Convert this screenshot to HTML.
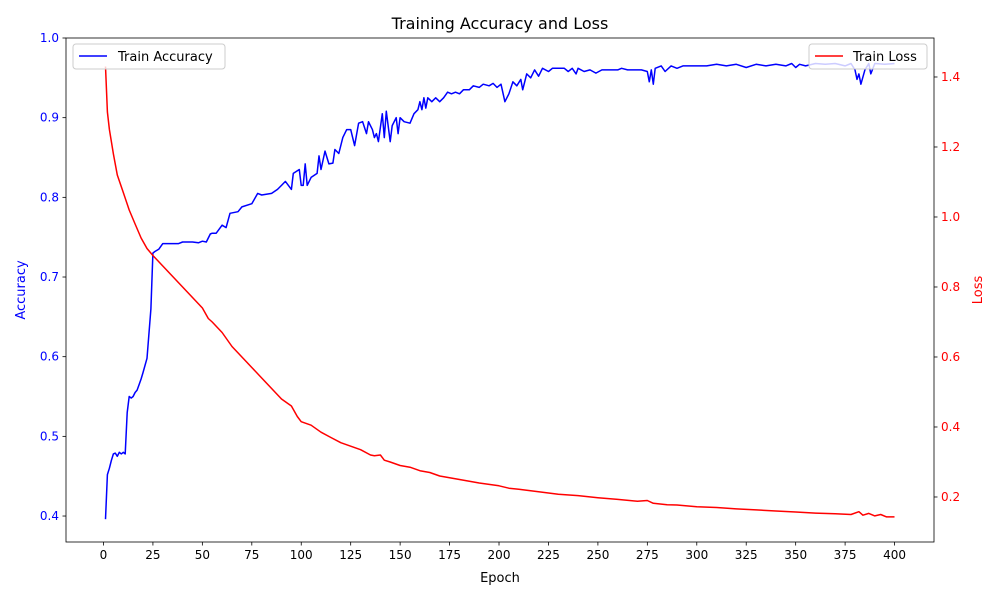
<!DOCTYPE html>
<html><head><meta charset="utf-8"><style>
body{margin:0;background:#fff;font-family:"Liberation Sans","DejaVu Sans",sans-serif}
svg text{font-family:"DejaVu Sans","Liberation Sans",sans-serif}
</style></head><body>
<svg id="chart" width="1000" height="600"></svg>
<script>
const accEpochs=[1,2,3,4,5,6,7,8,9,10,11,12,13,14,15,16,17,18,19,20,22,24,25,26,28,30,35,38,40,45,48,50,52,54,55,57,60,62,64,68,70,75,78,80,85,88,90,92,95,96,99,100,101,102,103,105,108,109,110,112,114,116,117,119,121,123,125,127,129,131,133,134,136,137,138,139,141,142,143,145,146,148,149,150,152,155,157,159,160,161,162,163,164,166,168,170,172,174,176,178,180,182,185,187,190,192,195,197,199,201,203,205,207,209,211,212,214,216,218,220,222,225,227,230,233,235,237,239,240,243,246,249,252,260,262,265,272,275,276,277,278,279,282,284,287,290,293,300,305,310,315,320,325,330,335,340,345,348,350,352,355,360,365,370,375,378,380,381,382,383,385,387,388,390,395,400];
const accValues=[0.396,0.452,0.46,0.47,0.478,0.479,0.475,0.48,0.478,0.48,0.478,0.53,0.55,0.548,0.55,0.555,0.558,0.565,0.572,0.58,0.598,0.66,0.73,0.732,0.735,0.742,0.742,0.742,0.744,0.744,0.743,0.745,0.744,0.754,0.755,0.755,0.765,0.762,0.78,0.782,0.788,0.792,0.805,0.803,0.805,0.81,0.815,0.82,0.81,0.83,0.835,0.815,0.815,0.842,0.815,0.825,0.83,0.852,0.835,0.858,0.842,0.843,0.86,0.855,0.875,0.885,0.885,0.865,0.893,0.895,0.88,0.895,0.885,0.875,0.88,0.87,0.905,0.875,0.908,0.87,0.89,0.9,0.88,0.9,0.895,0.893,0.905,0.91,0.92,0.91,0.925,0.912,0.925,0.92,0.925,0.92,0.925,0.932,0.93,0.932,0.93,0.935,0.935,0.94,0.938,0.942,0.94,0.943,0.938,0.942,0.92,0.93,0.945,0.94,0.948,0.935,0.955,0.95,0.96,0.952,0.962,0.958,0.962,0.962,0.962,0.958,0.962,0.955,0.962,0.958,0.96,0.956,0.96,0.96,0.962,0.96,0.96,0.958,0.945,0.96,0.942,0.962,0.965,0.958,0.965,0.962,0.965,0.965,0.965,0.967,0.965,0.967,0.963,0.967,0.965,0.967,0.965,0.968,0.963,0.967,0.965,0.968,0.967,0.968,0.965,0.968,0.96,0.948,0.955,0.942,0.96,0.968,0.955,0.968,0.967,0.968];
const lossEpochs=[1,2,3,5,7,10,13,16,19,22,25,30,35,40,45,50,53,55,60,65,70,75,80,85,90,95,98,100,105,110,115,120,125,130,135,137,140,142,145,150,155,160,165,170,175,180,190,200,205,210,220,230,240,250,260,270,275,278,285,290,300,310,320,330,340,350,360,370,378,382,384,387,390,393,396,400];
const lossValues=[1.43,1.3,1.25,1.18,1.12,1.07,1.02,0.98,0.94,0.91,0.89,0.86,0.83,0.8,0.77,0.74,0.71,0.7,0.67,0.63,0.6,0.57,0.54,0.51,0.48,0.46,0.43,0.415,0.405,0.385,0.37,0.355,0.345,0.335,0.32,0.318,0.32,0.305,0.3,0.29,0.285,0.275,0.27,0.26,0.255,0.25,0.24,0.232,0.225,0.222,0.215,0.208,0.204,0.198,0.193,0.188,0.19,0.182,0.178,0.177,0.172,0.17,0.166,0.163,0.16,0.157,0.154,0.152,0.15,0.158,0.148,0.153,0.146,0.15,0.143,0.143];
const xTicks=[0,25,50,75,100,125,150,175,200,225,250,275,300,325,350,375,400];
const accTicks=[0.4,0.5,0.6,0.7,0.8,0.9,1.0];
const lossTicks=[0.2,0.4,0.6,0.8,1.0,1.2,1.4];

const L=66,R=934,T=38,B=542;
const xMin=-18.95,xMax=419.95,aMin=0.3674,aMax=1.0,lMin=0.0714,lMax=1.5114;
const X=v=>L+(v-xMin)/(xMax-xMin)*(R-L);
const YA=v=>B-(v-aMin)/(aMax-aMin)*(B-T);
const YL=v=>B-(v-lMin)/(lMax-lMin)*(B-T);
const svg=document.getElementById('chart');
const NS='http://www.w3.org/2000/svg';
function mk(tag,attrs,text){const e=document.createElementNS(NS,tag);for(const k in attrs)e.setAttribute(k,attrs[k]);if(text!==undefined)e.textContent=text;svg.appendChild(e);return e;}

let e=mk('rect',{x:L,y:T,width:R-L,height:B-T,fill:'none',stroke:'#000','stroke-width':0.8});



xTicks.forEach(t=>{const x=X(t);
 let l=mk('line',{x1:x,x2:x,y1:B,y2:B+3.5,stroke:'#000','stroke-width':0.8});
 
 
 let s=mk('text',{x:x,y:B+17,'text-anchor':'middle','font-size':12},String(t));
 
 
});
accTicks.forEach(t=>{const y=YA(t);
 let l=mk('line',{x1:L-3.5,x2:L,y1:y,y2:y,stroke:'#000','stroke-width':0.8});
 
 
 let s=mk('text',{x:L-7,y:y+4,'text-anchor':'end','font-size':12,fill:'blue'},t.toFixed(1));
 
 
});
lossTicks.forEach(t=>{const y=YL(t);
 let l=mk('line',{x1:R,x2:R+3.5,y1:y,y2:y,stroke:'#000','stroke-width':0.8});
 
 
 let s=mk('text',{x:R+7,y:y+4,'text-anchor':'start','font-size':12,fill:'red'},t.toFixed(1));
 
 
});

e=mk('path',{d:accEpochs.map((v,i)=>(i?'L':'M')+X(v).toFixed(1)+','+YA(accValues[i]).toFixed(1)).join(''),fill:'none',stroke:'blue','stroke-width':1.5,'stroke-linejoin':'round'});


e=mk('path',{d:lossEpochs.map((v,i)=>(i?'L':'M')+X(v).toFixed(1)+','+YL(lossValues[i]).toFixed(1)).join(''),fill:'none',stroke:'red','stroke-width':1.5,'stroke-linejoin':'round'});



e=mk('text',{x:500,y:29,'text-anchor':'middle','font-size':16},'Training Accuracy and Loss');


e=mk('text',{x:500,y:582,'text-anchor':'middle','font-size':13},'Epoch');


e=mk('text',{x:25,y:290,'text-anchor':'middle','font-size':13,fill:'blue',transform:'rotate(-90 25 290)'},'Accuracy');


e=mk('text',{x:982,y:290,'text-anchor':'middle','font-size':13,fill:'red',transform:'rotate(-90 982 290)'},'Loss');



e=mk('rect',{x:73,y:44,width:152,height:25,rx:3,fill:'#fff','fill-opacity':0.8,stroke:'#ccc'});


e=mk('line',{x1:79,x2:107,y1:56,y2:56,stroke:'blue','stroke-width':1.5});


e=mk('text',{x:118,y:61,'font-size':13},'Train Accuracy');



e=mk('rect',{x:809,y:44,width:118,height:25,rx:3,fill:'#fff','fill-opacity':0.8,stroke:'#ccc'});


e=mk('line',{x1:815,x2:843,y1:56,y2:56,stroke:'red','stroke-width':1.5});


e=mk('text',{x:853,y:61,'font-size':13},'Train Loss');


</script>
</body></html>
